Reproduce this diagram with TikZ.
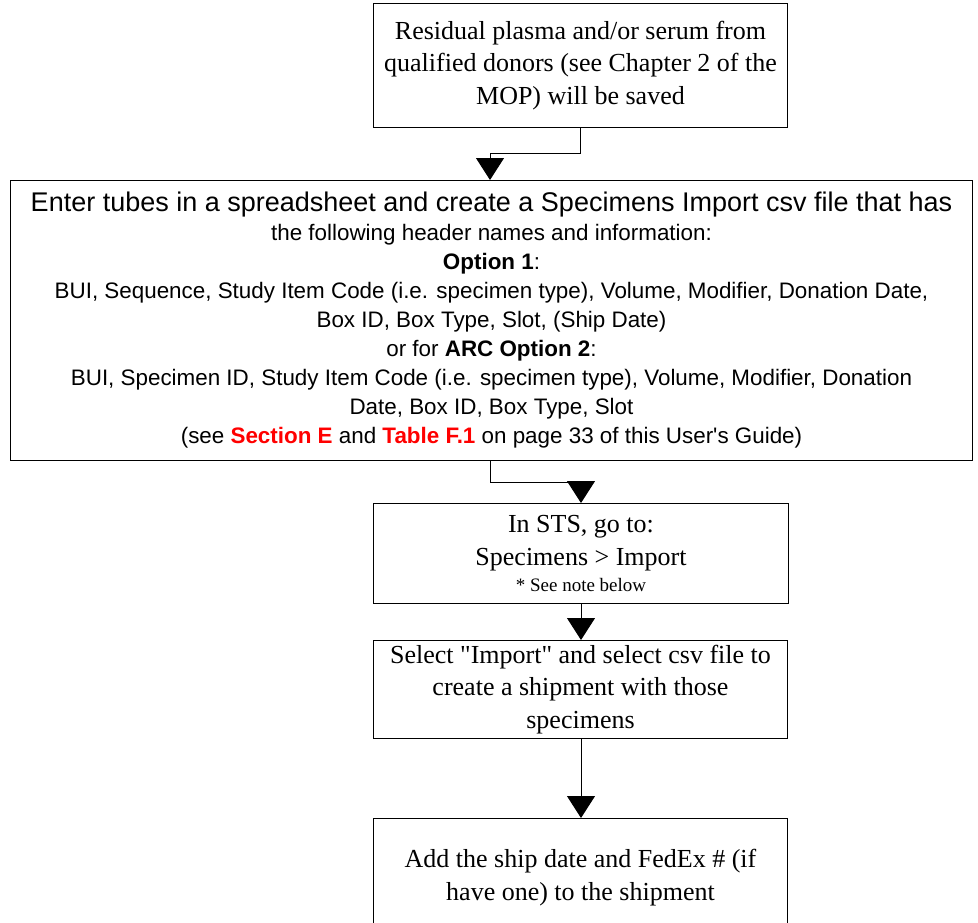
\documentclass[tikz,border=0pt]{standalone}
\usepackage{fontspec}
\setmainfont{Liberation Serif}
\newfontfamily\arialfont{Liberation Sans}
\newfontfamily\plainquotes{Liberation Serif}[Ligatures=TeXOff]
\usetikzlibrary{arrows.meta}
\definecolor{refred}{RGB}{255,0,0}
\newcommand\straightquote{{\plainquotes"}}

\begin{document}
\begin{tikzpicture}[x=1pt,y=-1pt,
  box/.style={draw=black, line width=1pt, anchor=north west, inner sep=0pt, align=center},
  serif/.style={font=\fontsize{26}{32.5}\selectfont},
  flow/.style={draw=black, line width=1pt, -{Triangle[width=28pt,length=22pt]}}]
\useasboundingbox (0,0) rectangle (978,922);
\clip (0,0) rectangle (978,922);

% plasma source
\node[box, serif, minimum width=414pt, minimum height=124pt] (src) at (373,3)
  {Residual plasma and/or serum from\\ qualified donors (see Chapter 2 of the\\ MOP) will be saved};

% spreadsheet instructions
\node[box, minimum width=962pt, minimum height=280pt,
      font=\arialfont\fontsize{22.4}{29}\selectfont] (spec) at (10,180)
  {{\fontsize{27}{29}\selectfont Enter tubes in a spreadsheet and create a Specimens Import csv file that has}\\
   the following header names and information:\\
   \textbf{Option 1}:\\
   BUI, Sequence, Study Item Code (i.e. specimen type), Volume, Modifier, Donation Date,\\
   Box ID, Box Type, Slot, (Ship Date)\\
   or for \textbf{ARC Option 2}:\\
   BUI, Specimen ID, Study Item Code (i.e. specimen type), Volume, Modifier, Donation\\
   Date, Box ID, Box Type, Slot\\
   (see \textcolor{refred}{\textbf{Section E}} and \textcolor{refred}{\textbf{Table F.1}} on page 33 of this User's Guide)};

% STS import menu
\node[box, serif, minimum width=415pt, minimum height=100pt] (sts) at (373,503)
  {In STS, go to:\\ Specimens > Import\\[-6pt] {\fontsize{19}{22}\selectfont * See note below}};

% select import file
\node[box, serif, minimum width=414pt, minimum height=98pt] (imp) at (373,640)
  {Select \straightquote Import\straightquote{} and select csv file to\\ create a shipment with those\\ specimens};

% shipment details
\node[box, serif, minimum width=414pt, minimum height=118pt] (ship) at (373,818)
  {Add the ship date and FedEx \# (if\\ have one) to the shipment};

% connectors
\coordinate (k1) at (580,153);
\coordinate (k2) at (490,153);
\coordinate (k3) at (490,482);
\coordinate (k4) at (581,482);
\draw[flow] (src.south -| k1) -- (k1) -- (k2) -- (spec.north -| k2);
\draw[flow] (spec.south -| k3) -- (k3) -- (k4) -- (sts.north -| k4);
\draw[flow] (sts.south -| k4) -- (imp.north -| k4);
\draw[flow] (imp.south -| k4) -- (ship.north -| k4);
\end{tikzpicture}
\end{document}
